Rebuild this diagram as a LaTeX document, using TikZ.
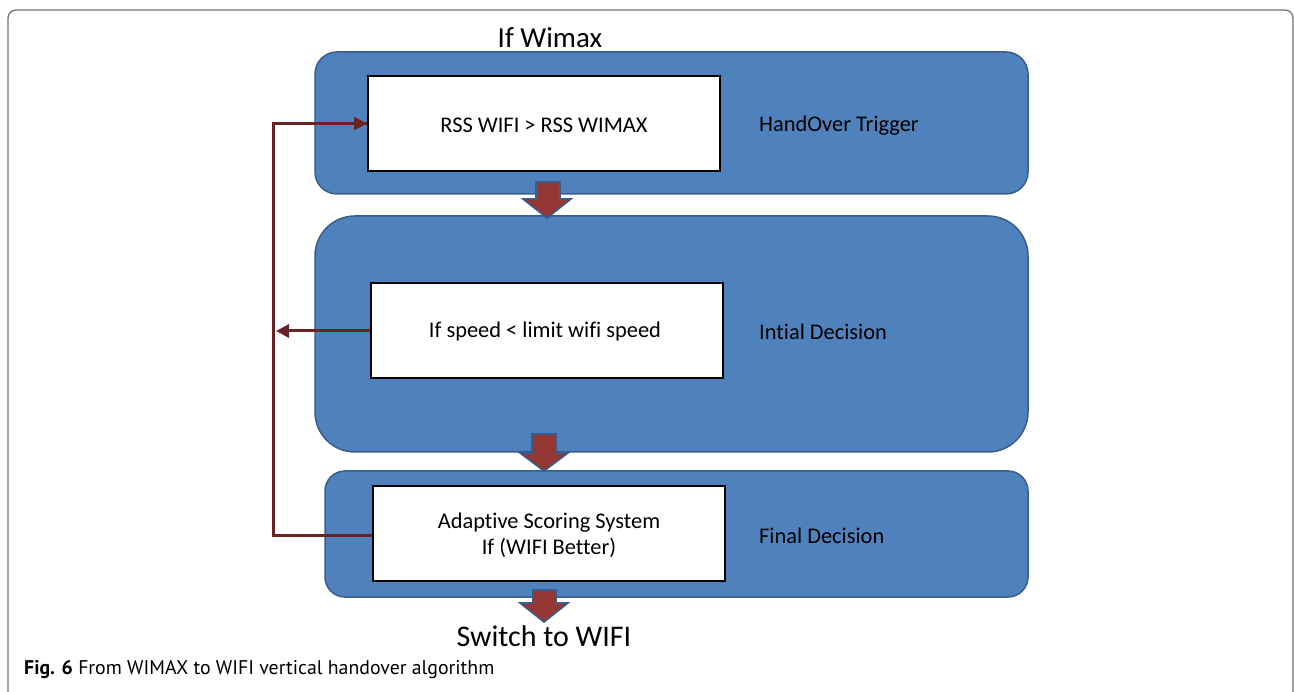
\documentclass[tikz,border=0pt]{standalone}
\usepackage{fontspec}
\setmainfont{Carlito}[Ligatures={NoCommon}]
\newfontfamily\capfont{PT Sans}
\usetikzlibrary{arrows.meta}
\definecolor{bluefill}{HTML}{4F81BD}
\definecolor{blueline}{HTML}{385D8A}
\definecolor{arrred}{HTML}{943634}
\definecolor{fbred}{HTML}{6B2222}
\tikzset{
  stage/.style={draw=blueline, fill=bluefill, line width=1.5pt},
  whitebox/.style={draw=black, fill=white, line width=2pt, minimum width=352pt, minimum height=95pt, inner sep=0pt},
  boxtext/.style={font=\fontsize{22.4}{26}\selectfont, inner sep=0pt, align=center},
  stagelabel/.style={anchor=west, font=\fontsize{22.4}{26}\selectfont, inner sep=0pt},
  blockarrow/.style={fill=arrred, draw=blueline, line width=1.6pt, line join=miter},
  feedback/.style={draw=fbred, line width=3pt},
  fbtip/.style={-{Triangle[length=13pt,width=13pt]}}
}
\begin{document}
\begin{tikzpicture}[x=1pt,y=-1pt]
\useasboundingbox (0,0) rectangle (1294,692);
% outer frame
\draw[draw=black!55, line width=1.3pt, rounded corners=8pt] (8,720) -- (8,10) -- (1293,10) -- (1293,720);
% stage boxes
\draw[stage, rounded corners=22pt] (315,52) rectangle (1028,194);
\draw[stage, rounded corners=40pt] (315,216) rectangle (1028,452);
\draw[stage, rounded corners=20pt] (325,471) rectangle (1028,597);
% block arrows
\draw[blockarrow] (536,182) -- (560,182) -- (560,199) -- (571,199) -- (547,218) -- (523,199) -- (536,199) -- cycle;
\draw[blockarrow] (532,434) -- (556,434) -- (556,453) -- (568,453) -- (544,471) -- (520,453) -- (532,453) -- cycle;
\draw[blockarrow] (533,590) -- (556,590) -- (556,603) -- (568,603) -- (544,622) -- (520,603) -- (533,603) -- cycle;
% white boxes
\node[whitebox] (w1) at (544,123.5) {};
\node[boxtext] (t1) at (544,125.5) {RSS WIFI > RSS WIMAX};
\node[whitebox] (w2) at (547,330.5) {};
\node[boxtext] (t2) at (545,331.5) {If speed < limit wifi speed};
\node[whitebox] (w3) at (549,533.5) {};
\node[boxtext] (t3) at (549,535) {Adaptive Scoring System\\If (WIFI Better)};
% labels
\node[stagelabel] (l1) at (759,126) {HandOver Trigger};
\node[stagelabel] (l2) at (759,332) {Intial Decision};
\node[stagelabel] (l3) at (759,536) {Final Decision};
\node[font=\fontsize{29}{33}\selectfont, inner sep=0pt] (top) at (550,38) {If Wimax};
\node[font=\fontsize{30}{34}\selectfont, inner sep=0pt] (sw) at (544,636) {Switch to WIFI};
% feedback
\coordinate (c3) at (273,535);
\coordinate (c2) at (276,331);
\draw[feedback] (w3.west |- c3) -- (c3) |- (w1.west);
\draw[feedback, fbtip] (w1.west -| c3) -- (w1.west);
\draw[feedback, fbtip] (w2.west |- c2) -- (c2);
% caption
\node[anchor=west, inner sep=0pt, font=\capfont\fontsize{19.8}{23}\selectfont] (cap) at (24,670) {\textbf{Fig. 6} From WIMAX to WIFI vertical handover algorithm};
\end{tikzpicture}
\end{document}
